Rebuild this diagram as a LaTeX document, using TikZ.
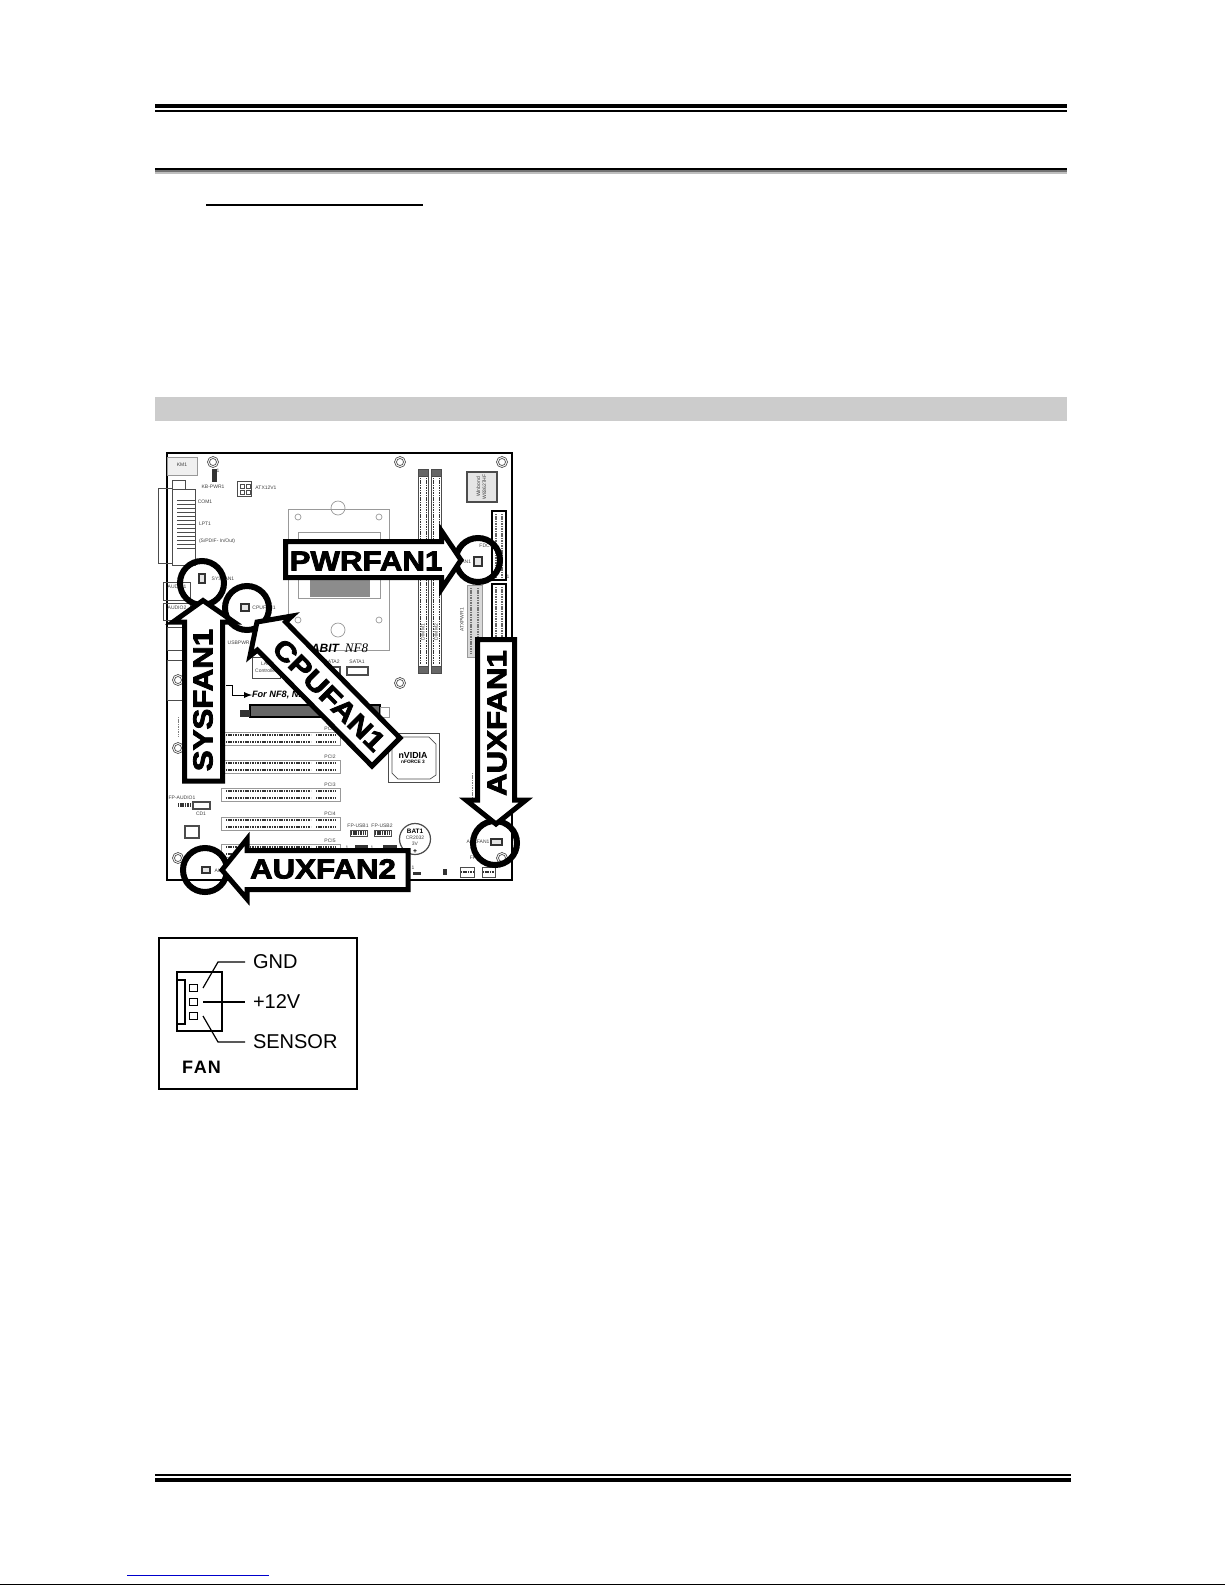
\documentclass[tikz,border=0pt]{standalone}
\usepackage{fontspec}
\setmainfont{Liberation Sans}
\newfontfamily\heavyfont[FakeBold=3,FakeStretch=1.14]{Liberation Sans Bold}
\newfontfamily\brandfont{Liberation Serif}
\usepackage{xcolor}
\usepackage{tikz}
\definecolor{bandgray}{HTML}{CCCCCC}
\definecolor{linkblue}{HTML}{0000CC}
\begin{document}
\begin{tikzpicture}[x=0.5pt,y=-0.5pt,
	every node/.style={inner sep=0pt,outer sep=0pt},
	part/.style={draw=black!70,line width=0.35pt},
	lightpart/.style={draw=black!40,line width=0.35pt},
	darkpart/.style={fill=black!80,draw=black!80,line width=0.2pt},
	pinrow/.style={draw=black!80,line width=0.9pt,dash pattern=on 0.55pt off 0.3pt},
	tiny/.style={font=\fontsize{2.5}{3}\selectfont,text=black!75},
	fanarrow/.style={draw=black,fill=white,line width=2.5pt,miter limit=10},
	fancircle/.style={draw=black,line width=3pt},
	fanname/.style={font=\heavyfont\fontsize{13.7}{16}\selectfont},
	legend/.style={font=\fontsize{10}{12}\selectfont,anchor=west},
	wire/.style={draw=black,line width=0.6pt}]
	\useasboundingbox (0,0) rectangle (1225,1585);
	% page rules
	\fill (155,104) rectangle (1067,108);
	\fill (155,110) rectangle (1067,112);
	\fill (155,168) rectangle (1067,170);
	\fill[black!55] (155,170) rectangle (1067,172);
	\fill[black!25] (155,172) rectangle (1067,174);
	\fill (206,204) rectangle (423,206);
	\fill[bandgray] (155,397) rectangle (1067,421);
	\fill (155,1474) rectangle (1071,1476);
	\fill (155,1478) rectangle (1071,1482);
	\fill[linkblue] (127,1575) rectangle (269,1576);
	\fill (0,1584) rectangle (1225,1585);
	% board
	\draw[draw=black,line width=0.7pt] (167,453) rectangle (512,880);
	\foreach \X/\Y in {213/462,400/462,502/462,400/683,178/680,178/748,178/858,502/858}
	{\draw[part] (\X,\Y) circle (5.5);
		\draw[part] (\X,\Y) circle (3.5);}
	% rear panel
	\draw[lightpart,fill=black!6] (167,457) rectangle (197,475);
	\draw[part] (172,480) rectangle (185,489);
	\draw[part] (158,488) rectangle (172,563);
	\draw[part] (172,489) rectangle (195,565);
	\foreach \Y in {500,504,...,548}
	{\draw[part,line width=0.5pt] (177,\Y) -- (195,\Y);}
	\draw[part] (163,582) rectangle (190,600);
	\draw[part] (163,603) rectangle (190,620);
	\draw[part] (167,627) rectangle (190,650);
	\draw[part] (167,660) rectangle (190,700);
	\draw[pinrow,black!50,line width=0.4pt] (178,717) -- (178,737);
	\draw[darkpart] (212,469) rectangle (216,481);
	\draw[part,line width=0.5pt] (237,481) rectangle (251,496);
	\foreach \X in {240,246}
	{\foreach \Y in {484,490}
		{\draw[part] (\X,\Y) rectangle ++(4,4);}}
	% socket
	\draw[lightpart] (288,509) rectangle (389,650);
	\draw[lightpart] (338,508) circle (7);
	\draw[lightpart] (338,630) circle (7);
	\foreach \X in {298,379}
	{\foreach \Y in {517,620}
		{\draw[lightpart] (\X,\Y) circle (3);}}
	\draw[lightpart] (298,532) rectangle (380,598);
	\fill[black!45] (310,540) rectangle (370,597);
	% memory slots
	\foreach \X in {418,431}
	{\draw[part] (\X,469) rectangle ++(10,204);
		\draw[part,fill=black!60] (\X,469) rectangle ++(10,7);
		\draw[part,fill=black!60] (\X,666) rectangle ++(10,7);
		\draw[pinrow,line width=0.5pt] (\the\numexpr\X+2\relax,478) -- ++(0,186);
		\draw[pinrow,line width=0.5pt] (\the\numexpr\X+8\relax,478) -- ++(0,186);}
	\node[tiny,rotate=90,fill=white] (dimma) at (423,632) {DIMM1};
	\node[tiny,rotate=90,fill=white] (dimmb) at (436,632) {DIMM2};
	% right side parts
	\draw[part,line width=0.8pt,fill=black!10] (467,472) rectangle (497,502);
	\node[tiny,rotate=90] (sio) at (482,487) {\begin{tabular}{@{}c@{}}Winbond\\W83627HF\end{tabular}};
	\draw[draw=black,line width=0.8pt] (492,511) rectangle (506,580);
	\draw[draw=black,line width=0.8pt] (492,584) rectangle (506,640);
	\foreach \X in {496,502}
	{\draw[pinrow,black!60,line width=0.6pt] (\X,514) -- (\X,577);
		\draw[pinrow,black!60,line width=0.6pt] (\X,587) -- (\X,637);}
	\draw[lightpart,fill=black!15] (467,585) rectangle (482,657);
	\draw[pinrow,black!55,line width=1.2pt] (471,588) -- (471,654);
	\draw[pinrow,black!55,line width=1.2pt] (478,588) -- (478,654);
	\draw[pinrow,black!50,line width=0.4pt] (472,773) -- (472,797);
	% fan connectors
	\foreach \X/\Y/\W/\H in {199/574/6/9,241/604/8/7,474/557/8/9,491/839/11/6,202/867/8/6}
	{\draw[draw=black!80,line width=0.6pt,fill=black!10] (\X,\Y) rectangle ++(\W,\H);}
	% controller and sata
	\draw[part] (252,657) rectangle (280,678);
	\draw[part,line width=0.6pt] (347,667) rectangle (368,675);
	\draw[part,line width=0.6pt] (322,667) rectangle (340,675);
	% agp and pci slots
	\draw[draw=black,line width=0.7pt,fill=black!60] (250,705) rectangle (380,717);
	\fill[black!80] (240,710) rectangle (250,717);
	\draw[lightpart] (380,707) rectangle (389,717);
	\foreach \Y/\Z in {732/PCI1,760/PCI2,788/PCI3,817/PCI4,844/PCI5}
	{\draw[lightpart] (221,\Y) rectangle (340,\the\numexpr\Y+13\relax);
		\draw[pinrow] (226,\the\numexpr\Y+3\relax) -- (311,\the\numexpr\Y+3\relax);
		\draw[pinrow] (226,\the\numexpr\Y+10\relax) -- (311,\the\numexpr\Y+10\relax);
		\draw[pinrow] (316,\the\numexpr\Y+3\relax) -- (336,\the\numexpr\Y+3\relax);
		\draw[pinrow] (316,\the\numexpr\Y+10\relax) -- (336,\the\numexpr\Y+10\relax);
		\node[tiny] (\Z) at (330,\the\numexpr\Y-3\relax) {\Z};}
	% north bridge
	\draw[part,line width=0.5pt] (388,733) rectangle (439,782);
	\draw[part] (392,737) -- (429,737) -- (436,744) -- (436,775) -- (430,779) -- (398,779) -- (392,773) -- cycle;
	\node[font=\bfseries\fontsize{4.4}{5}\selectfont] (nvidia) at (413,755) {nVIDIA};
	\node[font=\bfseries\fontsize{2.4}{3}\selectfont] (nforce) at (413,762) {nFORCE 3};
	% lower board parts
	\draw[pinrow,line width=1.6pt] (178,805) -- (192,805);
	\draw[part,line width=0.6pt] (193,802) rectangle (210,809);
	\draw[part,line width=0.6pt] (185,826) rectangle (199,838);
	\draw[pinrow,line width=1.6pt] (351,833) -- (366,833);
	\draw[pinrow,line width=1.6pt] (375,833) -- (390,833);
	\draw[part,line width=0.5pt] (350,830) rectangle (367,836);
	\draw[part,line width=0.5pt] (374,830) rectangle (391,836);
	\draw[part,line width=0.6pt] (415,839) circle (15.5);
	\fill[black!80] (355,845) rectangle (368,848);
	\fill[black!80] (383,845) rectangle (397,848);
	\fill[black!80] (413,872) rectangle (421,875);
	\fill[black!80] (443,869) rectangle (447,875);
	\draw[part,line width=0.4pt] (460,867) rectangle (474,877);
	\draw[part,line width=0.4pt] (482,867) rectangle (495,877);
	\draw[pinrow,line width=1pt] (461,872) -- (473,872);
	\draw[pinrow,line width=1pt] (483,872) -- (494,872);
	% board labels
	\foreach \X/\Y/\N/\T in {182/465/km/KM1,218/471/kbone/1,213/487/kbpwr/KB-PWR1,
		205/502/com/COM1,205/524/lpt/LPT1,266/488/atxv/ATX12V1,
		223/579/sysl/SYSFAN1,264/608/cpul/CPUFAN1,459/562/pwrl/PWRFAN1,486/546/fdc/FDC1,
		508/577/fdcone/1,177/587/audioa/AUDIO1,177/608/audiob/AUDIO2,240/643/usbp/USBPWR1,
		332/662/sataa/SATA2,357/662/satab/SATA1,266/671/lanc/Controller,266/664/lan/LAN,
		182/798/fpa/FP-AUDIO1,201/814/cdone/CD1,358/826/fpua/FP-USB1,382/826/fpub/FP-USB2,
		347/848/usbone/1,372/848/usbtwo/1,415/838/cr/CR2032,415/844/volt/3V,413/868/jpone/1,
		478/842/auxa/AUXFAN1,226/871/auxb/AUXFAN2,473/858/fpx/FP}
	{\node[tiny] (\N) at (\X,\Y) {\T};}
	\node[tiny,anchor=west] (spdif) at (199,541) {(S/PDIF- In/Out)};
	\node[tiny,rotate=90] (atxp) at (462,620) {ATXPWR1};
	\node[font=\bfseries\fontsize{3.2}{4}\selectfont] (batt) at (415,831) {BAT1};
	\node[font=\bfseries\fontsize{3.4}{4}\selectfont] (battplus) at (415,851) {+};
	\node[font=\bfseries\itshape\fontsize{6}{7}\selectfont] (abit) at (325,648) {ABIT};
	\node[font=\brandfont\itshape\fontsize{6.5}{7}\selectfont] (nfeight) at (356.5,648) {NF8};
	\node[font=\bfseries\itshape\fontsize{4.6}{5}\selectfont,anchor=west] (fornf) at (252,695) {For NF8, NF};
	\coordinate (fromusb) at (226,685);
	\draw[-latex,line width=0.4pt] (fromusb) -| (232,695) -- (fornf.west);
	% marks round the fan connectors
	\draw[fancircle] (478,560) circle (22);
	\draw[fancircle] (202,583) circle (22);
	\draw[fancircle] (247,608) circle (22);
	\draw[fancircle] (495,843) circle (22);
	\draw[fancircle] (205,870) circle (22);
	% big arrows
	\draw[fanarrow] (285.5,541.5) -- (441.5,541.5) -- (441.5,531) -- (461,560) -- (441.5,589) -- (441.5,577.5) -- (285.5,577.5) -- cycle;
	\node[fanname] (pwrfan) at (366,561) {PWRFAN1};
	\draw[fanarrow] (184.5,781) -- (184.5,622) -- (173,622) -- (203,600.5) -- (234,622) -- (222.5,622) -- (222.5,781) -- cycle;
	\node[fanname,rotate=90] (sysfan) at (203,700) {SYSFAN1};
	\draw[fanarrow] (400,738) -- (285.6,622) -- (292,616) -- (257,622) -- (250,656) -- (257.4,650) -- (372,766) -- cycle;
	\node[fanname,rotate=-45] (cpufan) at (329,695) {CPUFAN1};
	\draw[fanarrow] (477.5,639.5) -- (514.5,639.5) -- (514.5,800) -- (526,800) -- (496,824) -- (466,800) -- (477.5,800) -- cycle;
	\node[fanname,rotate=90] (auxfana) at (497,723) {AUXFAN1};
	\draw[fanarrow] (408,850.5) -- (247,850.5) -- (247,839) -- (222,870) -- (247,899) -- (247,889.5) -- (408,889.5) -- cycle;
	\node[fanname] (auxfanb) at (323,869) {AUXFAN2};
	% fan pinout
	\draw[draw=black,line width=0.7pt] (159,938) rectangle (357,1089);
	\draw[draw=black,line width=0.6pt] (177,972) rectangle (222,1031);
	\draw[draw=black,line width=0.6pt] (177,980) -| (185,1024) -- (177,1024);
	\foreach \Y/\N in {984/pina,998/pinb,1012/pinc}
	{\node[draw=black,line width=0.45pt,minimum width=4pt,minimum height=3.7pt,anchor=north west] (\N) at (189,\Y) {};}
	\node[legend] (gnd) at (253,962) {GND};
	\node[legend] (plus) at (253,1002) {+12V};
	\node[legend] (sensor) at (253,1042) {SENSOR};
	\node[font=\bfseries\fontsize{9}{10}\selectfont,anchor=west] (fanlbl) at (182,1067) {F\kern0.5pt A\kern0.5pt N};
	\coordinate (gndend) at (203,988);
	\coordinate (plusend) at (203,1002);
	\coordinate (sensend) at (203,1016);
	\draw[wire] (gndend) -- (218,962) -- ([xshift=-4pt]gnd.west);
	\draw[wire] (plusend) -- ([xshift=-4pt]plus.west);
	\draw[wire] (sensend) -- (218,1042) -- ([xshift=-4pt]sensor.west);
\end{tikzpicture}
\end{document}
